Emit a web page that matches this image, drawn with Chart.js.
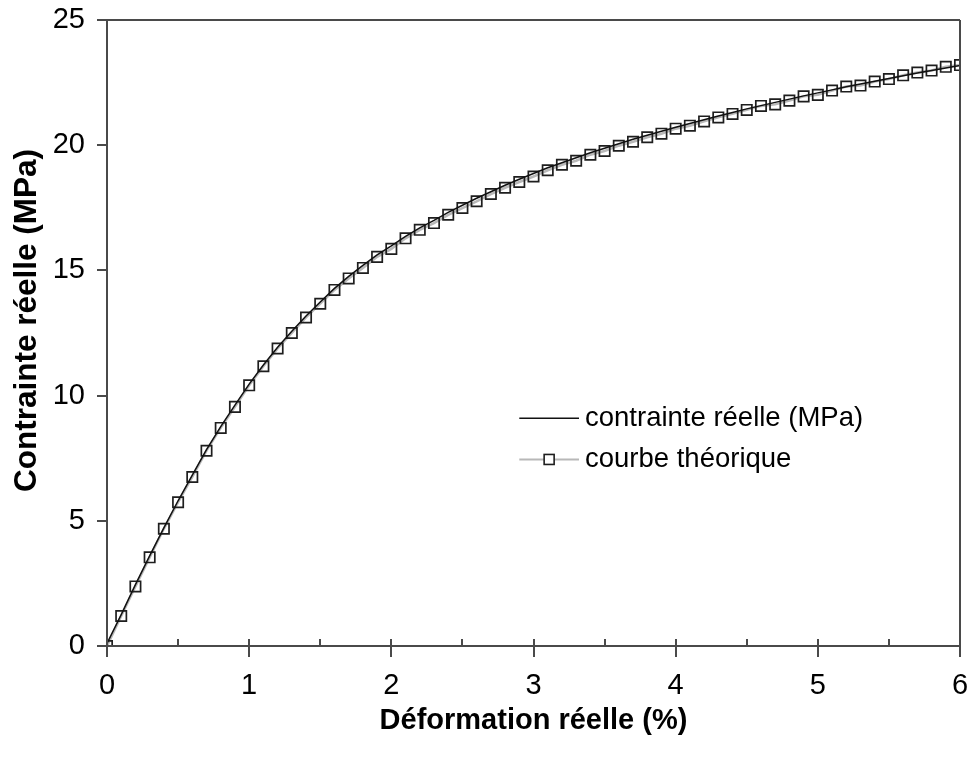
<!DOCTYPE html>
<html>
<head>
<meta charset="utf-8">
<script src="https://cdn.jsdelivr.net/npm/chart.js@4/dist/chart.umd.min.js"></script>
<style>
  html, body { margin: 0; padding: 0; background: #fff; }
  #wrap { width: 969px; height: 758px; }
</style>
</head>
<body>
<div id="wrap"><canvas id="c" width="969" height="758"></canvas></div>
<script>
// Strain (%) sampled every 0.1
const strain = [0.0,0.1,0.2,0.3,0.4,0.5,0.6,0.7,0.8,0.9,
                1.0,1.1,1.2,1.3,1.4,1.5,1.6,1.7,1.8,1.9,
                2.0,2.1,2.2,2.3,2.4,2.5,2.6,2.7,2.8,2.9,
                3.0,3.1,3.2,3.3,3.4,3.5,3.6,3.7,3.8,3.9,
                4.0,4.1,4.2,4.3,4.4,4.5,4.6,4.7,4.8,4.9,
                5.0,5.1,5.2,5.3,5.4,5.5,5.6,5.7,5.8,5.9,6.0];

// Measured true stress (MPa)
const measuredStress = [0.10,1.25,2.45,3.60,4.72,5.80,6.82,7.84,8.76,9.62,
                        10.46,11.22,11.93,12.57,13.18,13.74,14.28,14.76,15.20,15.62,
                        15.98,16.36,16.70,17.00,17.32,17.60,17.88,18.14,18.40,18.64,
                        18.87,19.10,19.30,19.50,19.70,19.88,20.06,20.24,20.40,20.56,
                        20.72,20.87,21.02,21.17,21.31,21.45,21.58,21.71,21.84,21.97,
                        22.09,22.21,22.33,22.44,22.55,22.66,22.77,22.88,22.98,23.08,23.18];

// Theoretical curve (MPa)
const theoreticalStress = [0.00,1.20,2.38,3.54,4.68,5.74,6.75,7.80,8.71,9.55,
                           10.41,11.17,11.88,12.50,13.12,13.67,14.22,14.68,15.10,15.54,
                           15.86,16.28,16.62,16.89,17.22,17.49,17.76,18.05,18.30,18.53,
                           18.75,19.00,19.22,19.38,19.62,19.77,19.98,20.14,20.32,20.46,
                           20.66,20.78,20.95,21.11,21.25,21.41,21.57,21.63,21.78,21.95,
                           22.01,22.18,22.34,22.38,22.54,22.64,22.79,22.90,22.98,23.13,23.20];

const seriesNames = ['contrainte réelle (MPa)', 'courbe théorique'];
const xTicks = [0, 1, 2, 3, 4, 5, 6];
const yTicks = [0, 5, 10, 15, 20, 25];
const yTitle = 'Contrainte réelle (MPa)';
const xTitle = 'Déformation réelle (%)';

const FONT = "'Liberation Sans', Arial, Helvetica, sans-serif";
const AXIS_COLOR = '#4a4a4a';

// Frame, tick marks, y title and legend drawn on top of the chart
const framePlugin = {
  id: 'frame',
  afterDraw(chart) {
    const ctx = chart.ctx;
    const a = chart.chartArea;
    const xs = chart.scales.x, ys = chart.scales.y;
    ctx.save();
    ctx.strokeStyle = AXIS_COLOR;
    ctx.lineWidth = 2;
    ctx.beginPath();
    // left axis and bottom axis
    ctx.moveTo(a.left, a.top); ctx.lineTo(a.left, a.bottom);
    ctx.moveTo(a.left, a.bottom); ctx.lineTo(a.right, a.bottom);
    // top and right frame
    ctx.moveTo(a.left, a.top); ctx.lineTo(a.right, a.top);
    ctx.moveTo(a.right, a.top); ctx.lineTo(a.right, a.bottom);
    // x ticks: integers cross the axis, halves point inward
    for (let v = 0; v <= 6.001; v += 0.5) {
      const px = Math.round(xs.getPixelForValue(v));
      const major = Math.abs(v - Math.round(v)) < 1e-6;
      ctx.moveTo(px, a.bottom - 7);
      ctx.lineTo(px, a.bottom + (major ? 11 : 0));
    }
    // y ticks point outward
    yTicks.forEach(v => {
      const py = Math.round(ys.getPixelForValue(v));
      ctx.moveTo(a.left - 10, py);
      ctx.lineTo(a.left, py);
    });
    ctx.stroke();

    // y axis title, rotated
    ctx.save();
    ctx.translate(27, ys.getPixelForValue(13));
    ctx.rotate(-Math.PI / 2);
    ctx.fillStyle = '#000';
    ctx.font = 'bold 31.5px ' + FONT;
    ctx.textAlign = 'center';
    ctx.textBaseline = 'middle';
    ctx.fillText(yTitle, 0, 0);
    ctx.restore();

    // legend
    const lx0 = xs.getPixelForValue(2.9), lx1 = xs.getPixelForValue(3.32);
    const ly1 = ys.getPixelForValue(9.1), ly2 = ys.getPixelForValue(7.45);
    const textX = lx1 + 6;
    const m = chart.data.datasets;
    ctx.lineWidth = 1.5;
    ctx.strokeStyle = m[0].borderColor;
    ctx.beginPath(); ctx.moveTo(lx0, ly1); ctx.lineTo(lx1, ly1); ctx.stroke();
    ctx.lineWidth = 2;
    ctx.strokeStyle = m[1].borderColor;
    ctx.beginPath(); ctx.moveTo(lx0, ly2); ctx.lineTo(lx1, ly2); ctx.stroke();
    const cx = (lx0 + lx1) / 2;
    ctx.fillStyle = '#fff';
    ctx.fillRect(cx - 5, ly2 - 5, 10, 10);
    ctx.lineWidth = 1.6;
    ctx.strokeStyle = m[1].pointBorderColor;
    ctx.strokeRect(cx - 5, ly2 - 5, 10, 10);
    ctx.fillStyle = '#000';
    ctx.font = '27.5px ' + FONT;
    ctx.textAlign = 'left';
    ctx.textBaseline = 'middle';
    ctx.fillText(seriesNames[0], textX, ly1);
    ctx.fillText(seriesNames[1], textX, ly2);
    ctx.restore();
  }
};

// keep tick labels from pushing the plot area inward
function noOverflow(s) {
  s.paddingTop = 0; s.paddingBottom = 0; s.paddingLeft = 0; s.paddingRight = 0;
}

const chart = new Chart(document.getElementById('c'), {
  type: 'line',
  data: {
    datasets: [
      {
        label: seriesNames[0],
        data: strain.map((x, i) => ({ x, y: measuredStress[i] })),
        borderColor: '#111111',
        borderWidth: 1.5,
        pointRadius: 0,
        tension: 0,
        order: 0
      },
      {
        label: seriesNames[1],
        data: strain.map((x, i) => ({ x, y: theoreticalStress[i] })),
        borderColor: '#b8b8b8',
        borderWidth: 2.5,
        pointStyle: 'rect',
        pointRadius: 7.3,
        pointBorderWidth: 1.7,
        pointBorderColor: '#1e1e1e',
        pointBackgroundColor: 'rgba(0,0,0,0)',
        tension: 0,
        order: 1
      }
    ]
  },
  options: {
    responsive: false,
    animation: false,
    devicePixelRatio: 1,
    layout: { padding: { top: 20, right: 8, left: 0, bottom: 0 } },
    plugins: { legend: { display: false }, tooltip: { enabled: false } },
    scales: {
      x: {
        type: 'linear',
        min: 0, max: 6,
        afterFit(s) { s.height = 112; noOverflow(s); },
        afterBuildTicks(s) { s.ticks = xTicks.map(v => ({ value: v })); },
        grid: { display: false, drawTicks: false },
        border: { display: false },
        ticks: { padding: 23, color: '#000', font: { family: FONT, size: 29 }, maxRotation: 0 },
        title: {
          display: true,
          text: xTitle,
          color: '#000',
          font: { family: FONT, size: 29, weight: 'bold' },
          padding: { top: 0, bottom: 20 }
        }
      },
      y: {
        type: 'linear',
        min: 0, max: 25,
        afterFit(s) { s.width = 107; noOverflow(s); },
        afterBuildTicks(s) { s.ticks = yTicks.map(v => ({ value: v })); },
        grid: { display: false, drawTicks: false },
        border: { display: false },
        ticks: { padding: 22, color: '#000', font: { family: FONT, size: 29 } },
        title: { display: false }
      }
    }
  },
  plugins: [framePlugin]
});
</script>
</body>
</html>
